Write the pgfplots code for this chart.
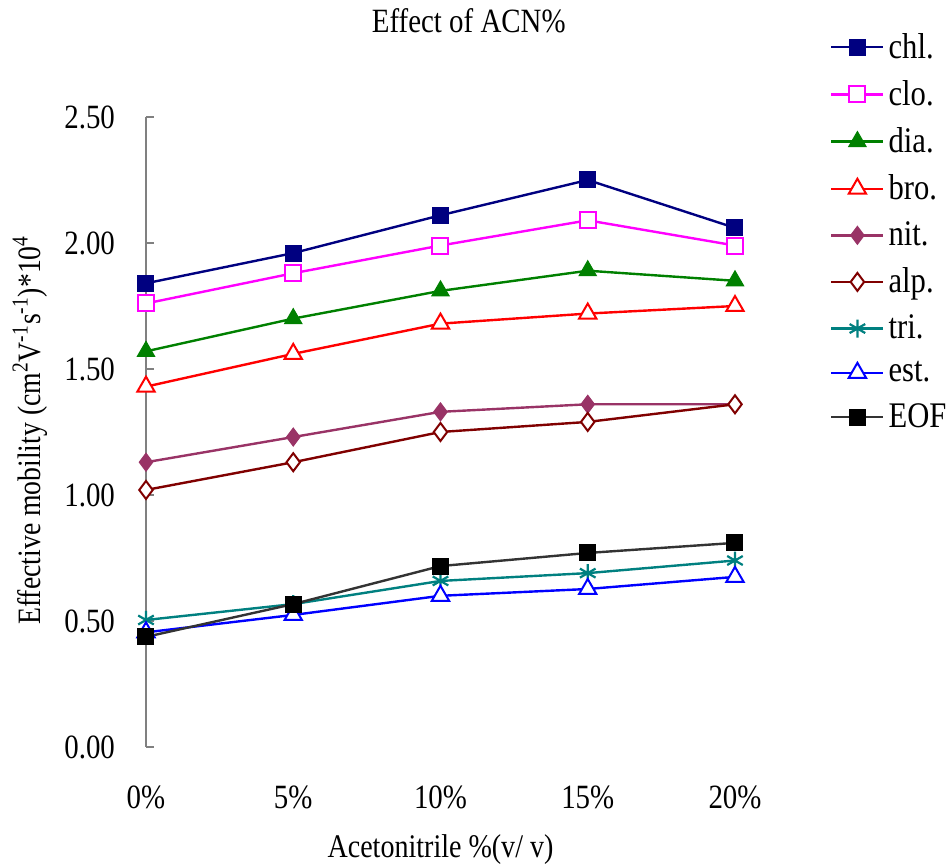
\documentclass[border=0pt]{standalone}
\usepackage{pgfplots}
\pgfplotsset{compat=1.18}
\usepackage{fontspec}
\setmainfont[FakeStretch=0.85]{Liberation Serif}
\definecolor{cchl}{RGB}{0,0,128}
\definecolor{cclo}{RGB}{255,0,255}
\definecolor{cdia}{RGB}{0,128,0}
\definecolor{cbro}{RGB}{255,0,0}
\definecolor{cnit}{RGB}{153,51,102}
\definecolor{calp}{RGB}{128,0,0}
\definecolor{ctri}{RGB}{0,128,128}
\definecolor{cest}{RGB}{0,0,255}
\definecolor{ceof}{RGB}{51,51,51}
\definecolor{axgray}{RGB}{128,128,128}
\begin{document}
\begin{tikzpicture}
\begin{axis}[
    name=ax,
    scale only axis,
    width=294.5pt, height=315pt,
    xmin=0, xmax=4,
    ymin=0, ymax=2.5,
    clip=false,
    axis x line*=bottom,
    axis y line*=left,
    y axis line style={draw=axgray, line width=0.8pt, -},
    x axis line style={draw=none, -},
    ytick={0,0.5,1,1.5,2,2.5},
    ytick style={draw=axgray, line width=0.8pt},
    tick align=inside,
    major tick length=4pt,
    xtick={0,1,2,3,4},
    xticklabels={0\%,5\%,10\%,15\%,20\%},
    xtick style={draw=none},
    /pgf/number format/assume math mode=true,
    yticklabel style={/pgf/number format/fixed, /pgf/number format/zerofill, /pgf/number format/precision=2, xshift=-12pt},
    xticklabel style={yshift=-16pt},
    ticklabel style={font=\fontsize{17}{20}\selectfont},
    title={Effect of ACN\%},
    title style={at={(axis description cs:0.548,1.134)}, anchor=center, font=\fontsize{17}{20}\selectfont},
    xlabel={Acetonitrile \%(v/ v)},
    xlabel style={at={(axis description cs:0.5,-0.163)}, anchor=center, font=\fontsize{16.5}{20}\selectfont},
    ylabel={Effective mobility (cm\textsuperscript{2}V\textsuperscript{-1}s\textsuperscript{-1})*10\textsuperscript{4}},
    ylabel style={at={(axis description cs:-0.197,0.503)}, anchor=center, font=\fontsize{16.3}{20}\selectfont},
    legend style={draw=none, at={(axis description cs:1.161,1.14)}, anchor=north west,
        font=\fontsize{18}{18.5}\selectfont, row sep=5.6pt, inner sep=0pt,
        /tikz/every even column/.append style={column sep=4pt}},
    legend cell align=left,
    legend image code/.code={\draw[mark repeat=2,mark phase=2] plot coordinates {(0pt,0pt)(13pt,0pt)(26pt,0pt)};},
    every axis plot/.append style={line width=1.2pt},
]
\addplot[color=cchl, mark=square*, mark size=4pt, mark options={fill=cchl, line width=0.5pt}]
  coordinates {(0,1.84)(1,1.96)(2,2.11)(3,2.25)(4,2.06)};
\addplot[color=cclo, mark=square*, mark size=4pt, mark options={fill=white, line width=1pt}]
  coordinates {(0,1.76)(1,1.88)(2,1.99)(3,2.09)(4,1.99)};
\addplot[color=cdia, mark=triangle*, mark size=5pt, mark options={fill=cdia, line width=0.5pt}]
  coordinates {(0,1.57)(1,1.70)(2,1.81)(3,1.89)(4,1.85)};
\addplot[color=cbro, mark=triangle*, mark size=5pt, mark options={fill=white, line width=1pt}]
  coordinates {(0,1.43)(1,1.56)(2,1.68)(3,1.72)(4,1.75)};
\addplot[color=cnit, mark=diamond*, mark size=4.5pt, mark options={fill=cnit, line width=0.5pt}]
  coordinates {(0,1.13)(1,1.23)(2,1.33)(3,1.36)(4,1.36)};
\addplot[color=calp, mark=diamond*, mark size=4.5pt, mark options={fill=white, line width=1pt}]
  coordinates {(0,1.02)(1,1.13)(2,1.25)(3,1.29)(4,1.36)};
\addplot[color=ctri, mark=asterisk, mark size=4.5pt, mark options={line width=1.1pt}]
  coordinates {(0,0.504)(1,0.567)(2,0.659)(3,0.69)(4,0.74)};
\addplot[color=cest, mark=triangle*, mark size=5pt, mark options={fill=white, line width=1pt}]
  coordinates {(0,0.455)(1,0.524)(2,0.60)(3,0.627)(4,0.675)};
\addplot[color=ceof, mark=square*, mark size=4pt, mark options={fill=black, draw=black, line width=0.5pt}]
  coordinates {(0,0.437)(1,0.567)(2,0.718)(3,0.77)(4,0.81)};
\legend{chl.,clo.,dia.,bro.,nit.,alp.,tri.,est.,EOF}
\end{axis}
\pgfresetboundingbox
\useasboundingbox ([shift={(-73pt,-60pt)}]ax.south west) rectangle ++(474pt,433.5pt);
\end{tikzpicture}
\end{document}
